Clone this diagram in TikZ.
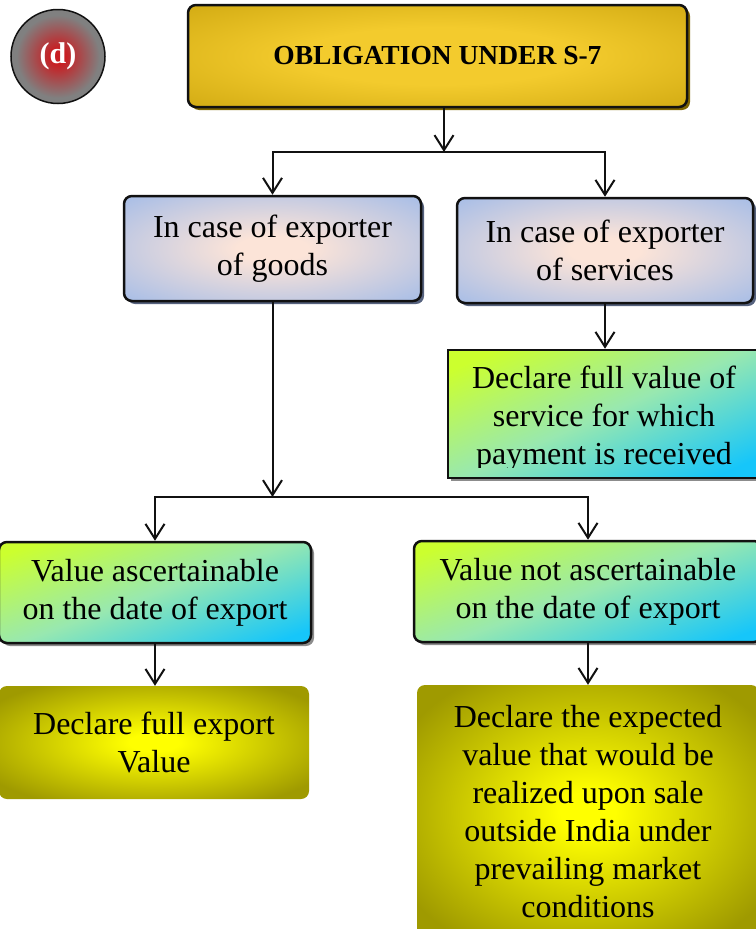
\documentclass[tikz,border=0pt]{standalone}
\usepackage{fontspec}
\setmainfont{Liberation Serif}
\usetikzlibrary{arrows.meta,calc}

% palette
\definecolor{goldhi}{HTML}{F3CB2D}
\definecolor{goldlo}{HTML}{C9A20C}
\definecolor{goldshadow}{HTML}{7E6500}
\definecolor{badgered}{HTML}{C81E22}
\definecolor{badgegray}{HTML}{808080}
\definecolor{bluebase}{HTML}{ABBFE6}
\definecolor{bluecore}{HTML}{FCE4D8}
\definecolor{blueshadow}{HTML}{56627E}
\definecolor{limegreen}{HTML}{CCFF2E}
\definecolor{mintgreen}{HTML}{98E8B0}
\definecolor{skycyan}{HTML}{16C6FA}
\definecolor{grayshadow}{HTML}{8C8C8C}
\definecolor{yelcore}{HTML}{FFFF00}
\definecolor{yeledge}{HTML}{9F9A00}
\definecolor{ink}{HTML}{111111}

% fills
\pgfdeclareradialshading{goldglow}{\pgfpoint{0bp}{0bp}}{color(0bp)=(goldhi); color(14bp)=(goldhi); color(42bp)=(goldlo); color(50bp)=(goldlo)}
\pgfdeclareradialshading{redglow}{\pgfpoint{0bp}{0bp}}{color(0bp)=(badgered); color(4bp)=(badgered); color(22bp)=(badgegray); color(50bp)=(badgegray)}
\pgfdeclareradialshading{blueglow}{\pgfpoint{0bp}{0bp}}{color(0bp)=(bluecore); color(6bp)=(bluecore); color(34bp)=(bluebase); color(50bp)=(bluebase)}
\pgfdeclareradialshading{yellowglow}{\pgfpoint{0bp}{0bp}}{color(0bp)=(yelcore); color(4bp)=(yelcore); color(31bp)=(yeledge); color(50bp)=(yeledge)}
\pgfdeclarehorizontalshading{greenfade}{100bp}{color(0bp)=(limegreen); color(22bp)=(limegreen); color(50bp)=(mintgreen); color(78bp)=(skycyan); color(100bp)=(skycyan)}

\begin{document}
\begin{tikzpicture}[x=1pt,y=-1pt,
  txt/.style={font=\fontsize{32}{38}\selectfont, align=center, text=black},
  card/.style={rectangle, inner sep=0pt, line width=2.5pt, draw=ink},
  shadowed/.style={preaction={fill=#1, transform canvas={shift={(3pt,-3pt)}}}},
  titlebox/.style={card, rounded corners=8pt, shading=goldglow, shadowed=goldshadow},
  casebox/.style={card, txt, rounded corners=8pt, shading=blueglow, shadowed=blueshadow},
  valuebox/.style={card, txt, shading=greenfade, shading angle=-70, shadowed=grayshadow},
  declbox/.style={rectangle, txt, inner sep=0pt, rounded corners=8pt, shading=yellowglow},
  link/.style={draw=ink, line width=2pt, -{Straight Barb[length=15pt,width=19pt]}}
]
\useasboundingbox (0,0) rectangle (755,929);

% badge and heading
\node[circle, minimum size=94pt, inner sep=0pt, draw=ink, line width=1.5pt, shading=redglow]
  (badge) at (58,56.5) {\fontsize{30}{32}\selectfont\bfseries\color{white}(d)};
\node[titlebox, minimum width=499pt, minimum height=102pt,
  font=\fontsize{27.5}{33}\selectfont\bfseries]
  (top) at (437.5,56) {OBLIGATION UNDER S-7};

% exporter categories
\node[casebox, minimum width=297pt, minimum height=105pt]
  (goods) at (272.5,248.5) {In case of exporter\\of goods};
\node[casebox, minimum width=296pt, minimum height=105pt]
  (services) at (605,250.5) {In case of exporter\\of services};

% services: declaration box, its text clipped to the inner area
\node[valuebox, shading angle=-66, rounded corners=0pt, minimum width=312pt, minimum height=128pt]
  (svc) at (604,414) {};
\begin{scope}
  \clip (svc.north west) rectangle ($(svc.south east)+(0,-12)$);
  \node[txt] (svctext) at ($(svc.center)+(0,5)$)
    {Declare full value of\\service for which\\payment is received};
\end{scope}

% goods: value cases
\node[valuebox, rounded corners=8pt, minimum width=312pt, minimum height=101pt]
  (val1) at (155,592.5) {Value ascertainable\\on the date of export};
\node[valuebox, rounded corners=8pt, minimum width=348pt, minimum height=101pt]
  (val2) at (588,591.5) {Value not ascertainable\\on the date of export};

% declarations
\node[declbox, minimum width=310pt, minimum height=113pt]
  (dec1) at (154,742.5) {Declare full export\\Value};
\node[declbox, minimum width=342pt, minimum height=254pt]
  (dec2) at (588,812) {Declare the expected\\value that would be\\realized upon sale\\outside India under\\prevailing market\\conditions};

% connectors
\coordinate (j1) at (444,152);
\coordinate (j2) at (273,497);
\draw[link] (top.south -| j1) -- (j1);
\draw[link] (j1) -| (goods.north);
\draw[link] (j1) -| (services.north);
\draw[link] (services.south) -- (services.south |- svc.north);
\draw[link] (goods.south) -- (goods.south |- j2);
\draw[link] (j2) -| (val1.north);
\draw[link] (j2) -| (val2.north);
\draw[link] (val1.south) -- (val1.south |- dec1.north);
\draw[link] (val2.south) -- (val2.south |- dec2.north);
\end{tikzpicture}
\end{document}
